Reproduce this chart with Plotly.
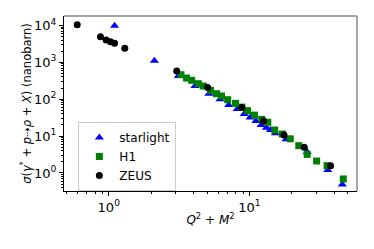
import plotly.graph_objects as go

# ---- data ----
starlight_x = [1.10, 2.11, 3.12, 4.10, 5.15, 6.17, 7.12, 8.18, 9.17, 10.1, 11.1, 12.1, 13.2, 14.1, 15.3, 18.2, 25.7, 36.0, 45.7]
starlight_y = [9800, 1105, 425, 228, 141, 99, 70, 54, 40, 32, 25.7, 20, 16.9, 14.6, 11.9, 8.2, 3.7, 1.2, 0.49]

h1_x = [3.26, 3.57, 3.88, 4.33, 4.69, 5.29, 5.83, 6.33, 7.0, 7.96, 8.83, 9.68, 10.85, 12.2, 13.5, 15.1, 17.1, 19.5, 22.4, 25.7, 30.0, 35.6, 46.4]
h1_y = [461, 375, 325, 263, 228, 174, 141, 122, 97, 77, 61, 49, 37, 28.5, 23.7, 14.6, 11.4, 8.45, 5.5, 3.2, 2.11, 1.58, 0.69]

zeus_x = [0.597, 0.873, 0.958, 1.028, 1.10, 1.30, 3.04, 5.04, 8.83, 12.6, 17.6, 24.5, 37.7]
zeus_y = [10400, 4940, 4020, 3620, 3270, 2400, 581, 208, 60, 25.7, 10.7, 5.0, 1.58]

x_tickvals = [1, 10]
x_ticktext = ["10<sup>0</sup>", "10<sup>1</sup>"]
y_tickvals = [1, 10, 100, 1000, 10000]
y_ticktext = ["10<sup>0</sup>", "10<sup>1</sup>", "10<sup>2</sup>", "10<sup>3</sup>", "10<sup>4</sup>"]
x_minor = [0.5, 0.6, 0.7, 0.8, 0.9, 2, 3, 4, 5, 6, 7, 8, 9, 20, 30, 40, 50]
y_minor = [m * 10 ** e for e in range(-1, 5) for m in range(2, 10)]

FONT = "DejaVu Sans"

fig = go.Figure()
fig.add_trace(go.Scatter(x=starlight_x, y=starlight_y, mode="markers", name="starlight",
                         marker=dict(symbol="triangle-up", size=8, color="#0000ff")))
fig.add_trace(go.Scatter(x=h1_x, y=h1_y, mode="markers", name="H1",
                         marker=dict(symbol="square", size=7, color="#008000")))
fig.add_trace(go.Scatter(x=zeus_x, y=zeus_y, mode="markers", name="ZEUS",
                         marker=dict(symbol="circle", size=7, color="#000000")))

# the page body adds an 8px offset, so the figure is sized/margined to compensate
fig.update_layout(
    width=358, height=233,
    margin=dict(l=56, r=9, t=8, b=50, autoexpand=False),
    paper_bgcolor="white", plot_bgcolor="white",
    font=dict(family=FONT, size=12, color="black"),
    showlegend=True,
    legend=dict(x=0.049, y=0.394, xanchor="left", yanchor="top",
                bgcolor="white", bordercolor="#cccccc", borderwidth=1,
                font=dict(family=FONT, size=12, color="black"),
                tracegroupgap=0, itemwidth=30),
    xaxis=dict(type="log", range=[-0.318, 1.764], showgrid=False, zeroline=False,
               automargin=True,
               showline=True, linecolor="black", linewidth=1,
               ticks="outside", ticklen=4, tickcolor="black",
               tickmode="array", tickvals=x_tickvals, ticktext=x_ticktext,
               tickfont=dict(family=FONT, size=13),
               minor=dict(tickmode="array", tickvals=x_minor, ticks="outside",
                          ticklen=2, tickcolor="black", showgrid=False),
               title=dict(text="<i>Q</i><sup>2</sup> + <i>M</i><sup>2</sup>",
                          font=dict(family=FONT, size=12), standoff=2)),
    yaxis=dict(type="log", range=[-0.488, 4.255], showgrid=False, zeroline=False,
               automargin=True,
               showline=True, linecolor="black", linewidth=1,
               ticks="outside", ticklen=4, tickcolor="black",
               tickmode="array", tickvals=y_tickvals, ticktext=y_ticktext,
               tickfont=dict(family=FONT, size=13),
               minor=dict(tickmode="array", tickvals=y_minor, ticks="outside",
                          ticklen=2, tickcolor="black", showgrid=False),
               title=dict(text="<i>σ</i>(<i>γ</i><sup>*</sup> + <i>p</i>⇢<i>ρ</i> + <i>X</i>) (nanobarn)",
                          font=dict(family=FONT, size=11.5), standoff=0)),
    shapes=[
        dict(type="line", xref="paper", yref="paper", x0=0, x1=1, y0=1, y1=1,
             line=dict(color="#888888", width=1.5)),
        dict(type="line", xref="paper", yref="paper", x0=1, x1=1, y0=0, y1=1,
             line=dict(color="#888888", width=1.5)),
    ],
)

fig.write_html("out.html")
